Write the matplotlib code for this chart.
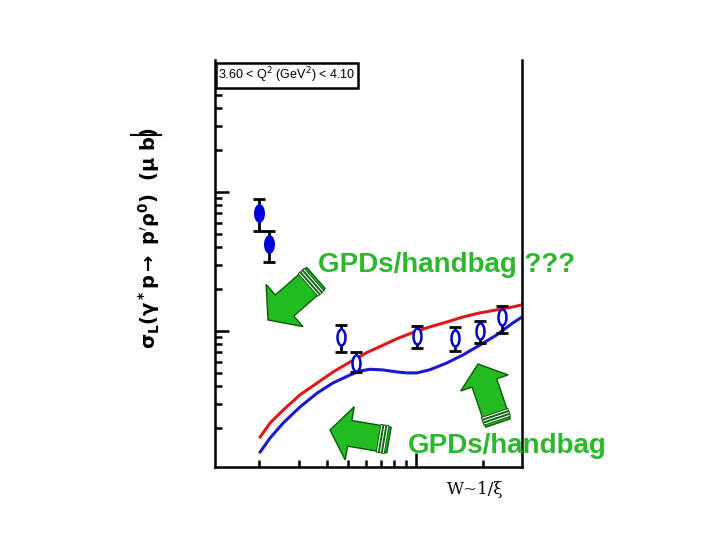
import numpy as np
import matplotlib
matplotlib.use("Agg")
import matplotlib.pyplot as plt
from matplotlib.path import Path
from matplotlib.patches import Polygon, Rectangle

# data points (W in GeV, sigma_L in mub)
w_filled = [2.0, 2.22]
sig_filled = [0.706, 0.423]
err_filled_lo = [0.182, 0.110]
err_filled_hi = [0.184, 0.101]

w_open = [4.63, 5.41, 10.1, 14.9, 19.3, 24.2]
sig_open = [0.0906, 0.0589, 0.0921, 0.0891, 0.100, 0.126]
err_open_lo = [0.020, 0.0081, 0.0165, 0.0174, 0.018, 0.0292]
err_open_hi = [0.019, 0.0117, 0.0169, 0.0179, 0.018, 0.025]

# model curves
w_red = [2.02, 2.238, 2.56, 3.04, 3.63, 4.27, 5.08, 6.05, 7.13, 8.23, 9.70,
         11.54, 13.74, 16.2, 19.3, 22.9, 27.0, 29.7]
sig_red = [0.01727, 0.0218, 0.0270, 0.0347, 0.0423, 0.0507, 0.0598, 0.0700,
           0.0790, 0.0880, 0.0975, 0.107, 0.116, 0.126, 0.135, 0.1417, 0.149, 0.154]
w_blue = [2.02, 2.238, 2.56, 3.04, 3.63, 4.27, 5.08, 5.63, 6.24, 7.13, 8.23,
          9.12, 10.1, 11.54, 13.74, 16.2, 19.3, 22.9, 27.0, 29.7]
sig_blue = [0.01347, 0.0170, 0.0218, 0.0284, 0.0358, 0.0423, 0.0482, 0.0515,
            0.0530, 0.0524, 0.0507, 0.0499, 0.0499, 0.0526, 0.0589, 0.0672,
            0.0793, 0.0936, 0.114, 0.126]

W, H = 720, 540
GREEN_TXT = '#2cb82c'
GREEN = '#22bb22'
DKGREEN = '#0a5a0a'


def px(x, y):
    return (x / W, 1 - y / H)


# tall ellipse marker
t = np.linspace(0, 2 * np.pi, 41)
ellipse = Path(np.column_stack([0.55 * np.cos(t), np.sin(t)]))
narrow = Path(np.column_stack([0.5 * np.cos(t), np.sin(t)]))

fig = plt.figure(figsize=(7.2, 5.4), dpi=100)
ax = fig.add_axes([215 / W, 1 - 467 / H, (522 - 215) / W, (467 - 60) / H])
ax.set_xscale('log')
ax.set_yscale('log')
ax.set_xlim(1.27, 29.7)
ax.set_ylim(0.0105, 8.9)

ax.plot(w_red, sig_red, color='#dd1a1a', lw=2.2, zorder=2, solid_joinstyle='round')
ax.plot(w_blue, sig_blue, color='#1a1acc', lw=2.2, zorder=2, solid_joinstyle='round')

ax.errorbar(w_filled, sig_filled, yerr=[err_filled_lo, err_filled_hi], fmt='none',
            ecolor='black', elinewidth=2, capsize=4, capthick=2, zorder=3)
ax.plot(w_filled, sig_filled, ls='none', marker=ellipse, ms=12.5, mfc='#0000dd',
        mec='#0000dd', zorder=4)
ax.errorbar(w_open, sig_open, yerr=[err_open_lo, err_open_hi], fmt='none',
            ecolor='black', elinewidth=2, capsize=4, capthick=2, zorder=3)
ax.plot(w_open, sig_open, ls='none', marker=narrow, ms=11.5, mfc='white',
        mec='#0000cc', mew=1.8, zorder=4)

ax.spines['top'].set_visible(False)
for s in ['left', 'right', 'bottom']:
    ax.spines[s].set_linewidth(1.8)
ax.tick_params(which='both', direction='in', top=False, right=False,
               labelleft=False, labelbottom=False, width=1.8)
ax.tick_params(which='major', length=10)
ax.tick_params(which='minor', length=5)

# Q^2 bin box
fig.patches.append(Rectangle(px(216, 88), 142 / W, 25 / H, transform=fig.transFigure,
                             fc='white', ec='black', lw=1.8, zorder=5))
fig.text(px(287, 75)[0], px(287, 75)[1], '3.60 < Q$^2$ (GeV$^2$) < 4.10',
         ha='center', va='center', fontsize=9, family='Liberation Sans', zorder=6)

# y label
fig.text(px(149, 238)[0], px(149, 238)[1],
         r'$\mathbf{\sigma_L(\gamma^* p \rightarrow\ p^{\prime}\rho^0)\ \ (\mu\ b)}$',
         rotation=90, ha='center', va='center', fontsize=14)
fig.lines.append(plt.Line2D([131 / W, 161 / W], [1 - 135 / H, 1 - 135 / H],
                            transform=fig.transFigure, color='black', lw=1.5))

# x label
fig.text(px(475, 490)[0], px(475, 490)[1], 'W~1/ξ', ha='center', va='center',
         fontsize=12, family='DejaVu Serif')

fig.text(px(318, 265)[0], px(318, 265)[1], 'GPDs/handbag ???', ha='left', va='center',
         fontsize=20, color=GREEN_TXT, family='Liberation Sans', weight='bold', zorder=6)
fig.text(px(408, 446)[0], px(408, 446)[1], 'GPDs/handbag', ha='left', va='center',
         fontsize=20, color=GREEN_TXT, family='Liberation Sans', weight='bold', zorder=6)


def draw_arrow(tail, tip, ws, wh, lh):
    tail = np.array(tail, float)
    tip = np.array(tip, float)
    d = tip - tail
    u = d / np.hypot(*d)
    n = np.array([-u[1], u[0]])
    base = tip - u * lh
    pts = [tail + n * ws / 2, base + n * ws / 2, base + n * wh / 2, tip,
           base - n * wh / 2, base - n * ws / 2, tail - n * ws / 2]
    pts = [px(*p) for p in pts]
    fig.patches.append(Polygon(pts, closed=True, transform=fig.transFigure,
                               fc=GREEN, ec=DKGREEN, lw=1.0, zorder=5))
    # striped tail
    for k in (3.5, 6.5, 9.5):
        a = tail + u * k + n * ws / 2
        b = tail + u * k - n * ws / 2
        fig.lines.append(plt.Line2D([a[0] / W, b[0] / W], [1 - a[1] / H, 1 - b[1] / H],
                                    transform=fig.transFigure, color=DKGREEN, lw=2.2,
                                    zorder=6))
        fig.lines.append(plt.Line2D([a[0] / W, b[0] / W], [1 - a[1] / H, 1 - b[1] / H],
                                    transform=fig.transFigure, color='white', lw=0.8,
                                    zorder=7))


draw_arrow((316, 278), (268, 320), 28, 56, 22)
draw_arrow((389, 440), (330, 430), 26, 54, 20)
draw_arrow((498, 423), (478, 364), 26, 50, 20)

fig.savefig('out.png', dpi=100)
